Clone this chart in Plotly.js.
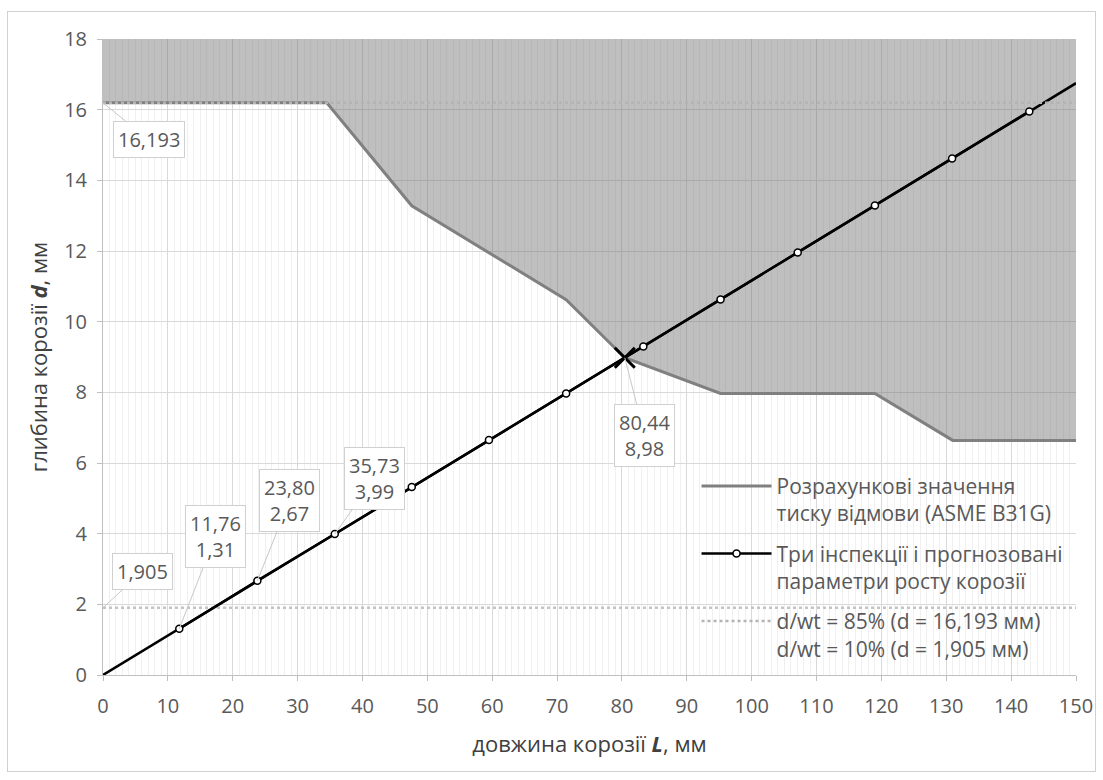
<!DOCTYPE html>
<html>
<head>
<meta charset="utf-8">
<script src="https://cdn.plot.ly/plotly-3.0.1.min.js"></script>
<style>
  html, body { margin: 0; padding: 0; background: #ffffff; }
  #wrap { position: relative; width: 1103px; height: 780px; }
  #chart { position: absolute; left: 0; top: 0; width: 1103px; height: 780px; }
  #frame { position: absolute; left: 7px; top: 11px; width: 1087px; height: 759px; border: 1px solid #d0d0d0; pointer-events: none; }
</style>
</head>
<body>
<div id="wrap"><div id="chart"></div><div id="frame"></div></div>
<script>
// ---- data ----
// ASME B31G calculated failure limit (piecewise curve)
const curveL = [0, 34.5, 47.6, 71.4, 80.44, 95.2, 119.0, 131.0, 150];
const curveD = [16.193, 16.193, 13.28, 10.62, 8.98, 7.97, 7.97, 6.64, 6.64];
const topD = 18;

// inspections and predicted corrosion growth
const trendL = [0, 150];
const trendD = [0, 16.75];
const inspL = [11.76, 23.80, 35.73, 47.6, 59.5, 71.4, 83.3, 95.2, 107.1, 119.0, 130.9, 142.8];
const inspD = [1.31, 2.67, 3.99, 5.32, 6.65, 7.97, 9.30, 10.63, 11.96, 13.29, 14.62, 15.95];

// intersection
const crossL = [80.44];
const crossD = [8.98];

// thresholds
const rangeL = [0, 150];
const d85 = 16.193;
const d10 = 1.905;

// labels
const names = {
  curve: 'Розрахункові значення<br>тиску відмови (ASME B31G)',
  insp: 'Три інспекції і прогнозовані<br>параметри росту корозії',
  t85: 'd/wt = 85% (d = 16,193 мм)',
  t10: 'd/wt = 10% (d = 1,905 мм)'
};
const xTitle = 'довжина корозії <b><i>L</i></b>, мм';
const yTitle = 'глибина корозії <b><i>d</i></b>, мм';
const fmt = s => String(s).replace('.', ',');

// ---- traces ----
const FONT = '"Open Sans", "DejaVu Sans", sans-serif';
const traces = [
  { // gray fill above limit curve
    x: curveL.concat([rangeL[1], rangeL[0]]),
    y: curveD.concat([topD, topD]),
    mode: 'lines', fill: 'toself', fillcolor: 'rgba(110,110,110,0.44)',
    line: { width: 0 }, hoverinfo: 'skip', showlegend: false
  },
  { // 10% line
    x: rangeL, y: rangeL.map(() => d10), mode: 'lines',
    line: { color: '#c4c4c4', width: 2.5, dash: 'dot' }, showlegend: false
  },
  { // limit curve
    x: curveL, y: curveD, mode: 'lines', name: names.curve, legendgroup: 'g1',
    line: { color: '#808080', width: 3 }
  },
  { // trend line (full)
    x: trendL, y: trendD, mode: 'lines',
    line: { color: '#000000', width: 2.5 }, showlegend: false
  },
  { // inspections markers
    x: inspL, y: inspD, mode: 'lines+markers', name: names.insp, legendgroup: 'g2',
    line: { color: '#000000', width: 2.5 },
    marker: { symbol: 'circle', size: 7, color: '#ffffff', line: { color: '#000000', width: 1.5 } }
  },
  { // 85% line (legend text carries both thresholds)
    x: rangeL, y: rangeL.map(() => d85), mode: 'lines', legendgroup: 'g3',
    name: names.t85 + '<br>' + names.t10,
    line: { color: '#b4b4b4', width: 2.5, dash: 'dot' }
  },
  { // intersection cross
    x: crossL, y: crossD, mode: 'markers', showlegend: false,
    marker: { symbol: 'x-thin-open', size: 20, color: '#000000', line: { color: '#000000', width: 3 } }
  }
];

// ---- annotations ----
const annStyle = {
  showarrow: true, arrowhead: 0, arrowwidth: 1, arrowcolor: '#c8c8c8',
  bgcolor: '#ffffff', bordercolor: '#d0d0d0', borderwidth: 1, borderpad: 4,
  font: { family: FONT, size: 20, color: '#595959' }, align: 'center'
};
const lab2 = (a, b) => fmt(a.toFixed(2)) + '<br>' + fmt(b.toFixed(2));
const annotations = [
  Object.assign({}, annStyle, { x: 0, y: d85, text: fmt(d85.toFixed(3)), ax: 46, ay: 37 }),
  Object.assign({}, annStyle, { x: 0, y: d10, text: fmt(d10.toFixed(3)), ax: 39, ay: -36 }),
  Object.assign({}, annStyle, { x: inspL[0], y: inspD[0], text: lab2(inspL[0], inspD[0]), ax: 36, ay: -92 }),
  Object.assign({}, annStyle, { x: inspL[1], y: inspD[1], text: lab2(inspL[1], inspD[1]), ax: 32, ay: -80 }),
  Object.assign({}, annStyle, { x: inspL[2], y: inspD[2], text: lab2(inspL[2], inspD[2]), ax: 40, ay: -56 }),
  Object.assign({}, annStyle, { x: crossL[0], y: crossD[0], text: lab2(crossL[0], crossD[0]), ax: 20, ay: 78 })
];

const layout = {
  width: 1103, height: 780,
  margin: { l: 103, r: 27, t: 39, b: 105 },
  paper_bgcolor: '#ffffff', plot_bgcolor: '#ffffff',
  font: { family: FONT, color: '#595959', size: 20 },
  showlegend: true,
  legend: {
    x: 0.610, y: 0.329, xanchor: 'left', yanchor: 'top',
    bgcolor: 'rgba(0,0,0,0)', borderwidth: 0,
    font: { family: FONT, size: 21, color: '#595959' },
    itemwidth: 70, valign: 'top', tracegroupgap: 10, traceorder: 'grouped'
  },
  xaxis: {
    range: [0, 150], dtick: 10, tick0: 0,
    showgrid: true, gridcolor: '#d9d9d9', gridwidth: 1,
    minor: { dtick: 1, showgrid: true, gridcolor: '#f0f0f0', gridwidth: 1 },
    showline: true, linecolor: '#bfbfbf', linewidth: 1,
    ticks: 'outside', ticklen: 5, tickcolor: '#bfbfbf',
    zeroline: false, ticklabelstandoff: 8,
    tickfont: { family: FONT, size: 20, color: '#595959' },
    title: { text: xTitle, font: { family: FONT, size: 22, color: '#404040' }, standoff: 18 }
  },
  yaxis: {
    range: [0, 18], dtick: 2, tick0: 0,
    showgrid: true, gridcolor: '#d9d9d9', gridwidth: 1,
    showline: true, linecolor: '#bfbfbf', linewidth: 1,
    ticks: 'outside', ticklen: 5, tickcolor: '#bfbfbf',
    zeroline: false, ticklabelstandoff: 6,
    tickfont: { family: FONT, size: 20, color: '#595959' },
    title: { text: yTitle, font: { family: FONT, size: 22, color: '#404040' }, standoff: 10 }
  },
  annotations: annotations
};

Plotly.newPlot('chart', traces, layout, { staticPlot: true, displayModeBar: false });
</script>
</body>
</html>
